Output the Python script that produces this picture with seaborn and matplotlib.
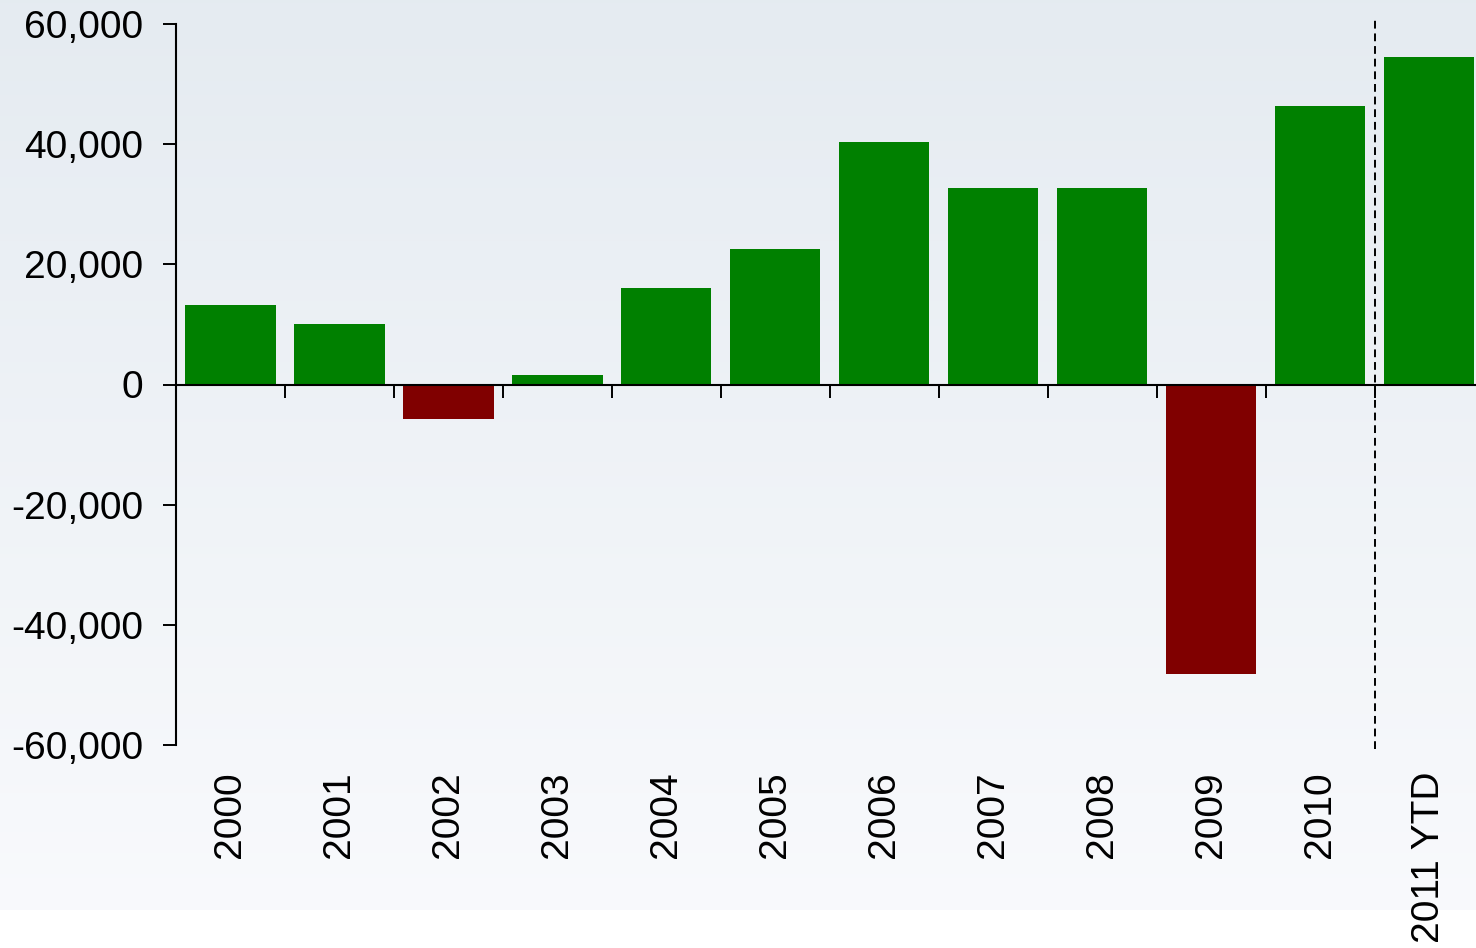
import numpy as np
import pandas as pd
import matplotlib
matplotlib.use("Agg")
import matplotlib.pyplot as plt
from matplotlib.ticker import FuncFormatter, FixedLocator
import seaborn as sns

categories = ["2000", "2001", "2002", "2003", "2004", "2005", "2006",
              "2007", "2008", "2009", "2010", "2011 YTD"]
values = [13200, 10000, -5800, 1500, 16000, 22500, 40300,
          32700, 32700, -48200, 46300, 54500]
yticks = [-60000, -40000, -20000, 0, 20000, 40000, 60000]

sns.set_style("white")
plt.rcParams['font.family'] = ['Liberation Sans', 'DejaVu Sans']

df = pd.DataFrame({"year": categories, "value": values})
df["sign"] = np.where(df["value"] >= 0, "pos", "neg")

fig = plt.figure(figsize=(14.76, 9.48), dpi=100)
fig.patch.set_facecolor("white")

# background gradient
bg = fig.add_axes([0, 0, 1, 1], zorder=-10)
grad = np.linspace(0, 1, 256)[:, None]
top = np.array([0.898, 0.922, 0.945])
bot = np.array([0.975, 0.980, 0.990])
img = top[None, None, :] * (1 - grad[..., None]) + bot[None, None, :] * grad[..., None]
img = np.repeat(img, 4, axis=1)
bg.imshow(img, aspect="auto", extent=[0, 1, 0.04, 1], origin="upper")
bg.set_xlim(0, 1)
bg.set_ylim(0, 1)
bg.axis("off")

ax = fig.add_axes([176 / 1476, 1 - 745 / 948, 1 - 176 / 1476, (745 - 24) / 948])
ax.patch.set_alpha(0)

sns.barplot(data=df, x="year", y="value", hue="sign",
            palette={"pos": "#008000", "neg": "#800000"},
            dodge=False, width=0.826, legend=False, ax=ax,
            order=categories, saturation=1, linewidth=0, edgecolor="none")

ax.set_xlim(-0.5, 11.427)
ax.set_ylim(-60000, 60000)
ax.set_xlabel("")
ax.set_ylabel("")

for s in ["top", "right"]:
    ax.spines[s].set_visible(False)
ax.spines["bottom"].set_position(("data", 0))
ax.spines["bottom"].set_linewidth(1.5)
ax.spines["left"].set_linewidth(1.5)
ax.spines["bottom"].set_color("black")
ax.spines["left"].set_color("black")

ax.set_yticks(yticks)
ax.yaxis.set_major_formatter(FuncFormatter(lambda v, p: f"{int(v):,}"))
ax.tick_params(axis="y", which="major", direction="out", length=9.4, width=1.4,
               pad=14, labelsize=28, colors="black", left=True)

ax.xaxis.set_minor_locator(FixedLocator(np.arange(0.5, 11, 1.0)))
ax.tick_params(axis="x", which="minor", direction="out", length=9.4, width=1.4,
               bottom=True, color="black")
ax.tick_params(axis="x", which="major", length=0, labelbottom=False)

sec = ax.secondary_xaxis("bottom")
sec.set_xticks(range(len(categories)))
sec.set_xticklabels(categories, rotation=90)
sec.tick_params(length=0, pad=19, labelsize=28, colors="black")
sec.spines["bottom"].set_visible(False)

ax.axvline(10.5, ymin=-0.005, ymax=1.005, color="black", lw=1.4,
           linestyle=(0, (4, 2.5)), clip_on=False, zorder=5)

fig.savefig("out.png", dpi=100)
